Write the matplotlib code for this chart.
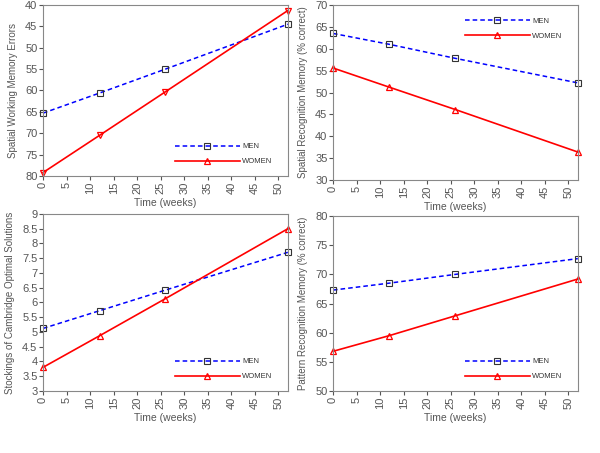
import matplotlib
matplotlib.use('Agg')
import matplotlib.pyplot as plt
from matplotlib.lines import Line2D

plt.rcParams['font.family'] = ['Liberation Sans', 'DejaVu Sans']

weeks = [0, 12, 26, 52]

# spatial working memory errors (axis inverted)
swm_men = [65.3, 60.6, 55.0, 44.5]
swm_women = [79.2, 70.5, 60.3, 41.3]

# spatial recognition memory (% correct)
srm_men = [63.5, 61.0, 57.8, 52.2]
srm_women = [55.6, 51.2, 46.1, 36.4]

# stockings of cambridge optimal solutions
soc_men = [5.12, 5.72, 6.42, 7.70]
soc_women = [3.80, 4.87, 6.13, 8.50]

# pattern recognition memory (% correct)
prm_men = [67.3, 68.5, 70.0, 72.7]
prm_women = [56.8, 59.5, 62.9, 69.2]

GRAY = '#555555'
SPINE = '#888888'

fig = plt.figure(figsize=(6, 4.53), dpi=100)

panels = [
    ([0.0717, 0.6115, 0.408, 0.3775], swm_men, swm_women, (80, 40), 5,
     'Spatial Working Memory Errors', 'lower right', True),
    ([0.555, 0.6026, 0.408, 0.3864], srm_men, srm_women, (30, 70), 5,
     'Spatial Recognition Memory (% correct)', 'upper right', False),
    ([0.0717, 0.137, 0.408, 0.3906], soc_men, soc_women, (3, 9), 0.5,
     'Stockings of Cambridge Optimal Solutions', 'lower right', False),
    ([0.555, 0.137, 0.408, 0.386], prm_men, prm_women, (50, 80), 5,
     'Pattern Recognition Memory (% correct)', 'lower right', False),
]

for rect, men, women, ylim, ystep, ylabel, loc, inverted in panels:
    ax = fig.add_axes(rect)
    wmark = 'v' if inverted else '^'
    ax.plot(weeks, men, color='blue', linestyle=(0, (3, 2)), linewidth=1.1,
            marker='s', markersize=4, markerfacecolor='none',
            markeredgecolor='#333333', markeredgewidth=0.8, clip_on=False)
    ax.plot(weeks, women, color='red', linestyle='-', linewidth=1.2,
            marker=wmark, markersize=4.5, markerfacecolor='none',
            markeredgecolor='red', markeredgewidth=0.9, clip_on=False)
    ax.set_xlim(0, 52)
    ax.set_ylim(ylim[0], ylim[1])
    ax.set_xticks(range(0, 51, 5))
    lo, hi = min(ylim), max(ylim)
    n = int(round((hi - lo) / ystep))
    yt = [lo + i * ystep for i in range(n + 1)]
    ax.set_yticks(yt)
    ax.set_yticklabels(['%g' % v for v in yt])
    ax.tick_params(axis='x', labelrotation=90)
    ax.tick_params(labelsize=8, colors=GRAY, length=3, width=0.8,
                   direction='out', pad=1)
    for s in ax.spines.values():
        s.set_color(SPINE)
        s.set_linewidth(0.8)
    ax.set_xlabel('Time (weeks)', fontsize=7.5, color=GRAY, labelpad=3)
    ax.set_ylabel(ylabel, fontsize=7, color=GRAY, labelpad=5)

    handles = [
        Line2D([], [], color='blue', linestyle=(0, (3, 2)), linewidth=1.1,
               marker='s', markersize=4, markerfacecolor='none',
               markeredgecolor='#333333', markeredgewidth=0.8),
        Line2D([], [], color='red', linestyle='-', linewidth=1.2,
               marker='^', markersize=4.5, markerfacecolor='none',
               markeredgecolor='red', markeredgewidth=0.9),
    ]
    if loc == 'upper right':
        anchor = (0.98, 0.99)
    else:
        anchor = (0.98, 0.0)
    leg = ax.legend(handles, ['MEN', 'WOMEN'], loc=loc, frameon=False,
                    fontsize=5.5, handlelength=8.5,
                    labelspacing=1.0, handletextpad=0.3,
                    borderaxespad=1.0, bbox_to_anchor=anchor)
    for t in leg.get_texts():
        t.set_color('#333333')

fig.savefig('out.png', dpi=100)
